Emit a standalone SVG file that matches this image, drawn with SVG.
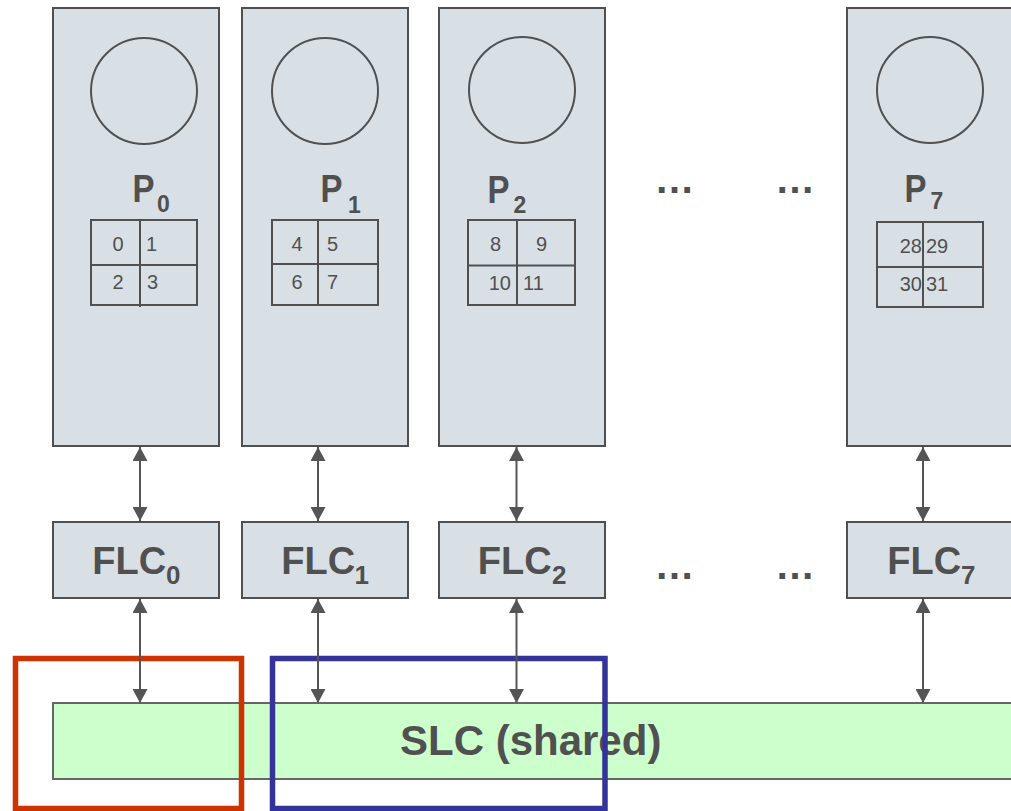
<svg xmlns="http://www.w3.org/2000/svg" width="1011" height="811" viewBox="0 0 1011 811">
<defs>
<marker id="ah" viewBox="0 0 14 15" refX="14" refY="7.5" markerWidth="14" markerHeight="15" markerUnits="userSpaceOnUse" orient="auto-start-reverse">
<path d="M0,0 L14,7.5 L0,15 z" fill="#555555"/>
</marker>
<style>
.box{fill:#d9e0e5;stroke:#505050;stroke-width:2}
.circ{fill:none;stroke:#505050;stroke-width:2}
.grid{fill:none;stroke:#505050;stroke-width:2}
.num{font-family:"Liberation Sans",Arial,sans-serif;font-size:20px;fill:#505050}
.pl{font-family:"Liberation Sans",Arial,sans-serif;font-weight:bold;font-size:33px;fill:#505050}
.ps{font-family:"Liberation Sans",Arial,sans-serif;font-weight:bold;font-size:23px;fill:#505050}
.fl{font-family:"Liberation Sans",Arial,sans-serif;font-weight:bold;font-size:38px;fill:#505050}
.fs{font-family:"Liberation Sans",Arial,sans-serif;font-weight:bold;font-size:26px;fill:#505050}
.dots{font-family:"Liberation Sans",Arial,sans-serif;font-weight:bold;font-size:40px;fill:#505050}
.conn{stroke:#555555;stroke-width:2;fill:none;marker-start:url(#ah);marker-end:url(#ah)}
</style>
</defs>

<g id="P0">
<rect class="box" x="53" y="8" width="166" height="438"/>
<circle class="circ" cx="144" cy="91" r="53"/>
<text class="pl" transform="translate(132.5,202) scale(1,1.15)">P</text><text class="ps" x="157" y="212">0</text>
<rect class="grid" x="91" y="220" width="106" height="85"/>
<line class="grid" x1="91" y1="265" x2="197" y2="265"/>
<line class="grid" x1="140" y1="220" x2="140" y2="307"/>
<text class="num" x="118" y="251" text-anchor="middle">0</text>
<text class="num" x="146" y="251">1</text>
<text class="num" x="118" y="289" text-anchor="middle">2</text>
<text class="num" x="147" y="289">3</text>
</g>

<g id="P1">
<rect class="box" x="242" y="8" width="166" height="438"/>
<circle class="circ" cx="325" cy="91" r="53"/>
<text class="pl" transform="translate(320.5,202) scale(1,1.15)">P</text><text class="ps" x="348" y="213">1</text>
<rect class="grid" x="272" y="220" width="106" height="85"/>
<line class="grid" x1="272" y1="264" x2="378" y2="264"/>
<line class="grid" x1="318" y1="220" x2="318" y2="305"/>
<text class="num" x="297" y="251" text-anchor="middle">4</text>
<text class="num" x="327" y="251">5</text>
<text class="num" x="297" y="289" text-anchor="middle">6</text>
<text class="num" x="327" y="289">7</text>
</g>

<g id="P2">
<rect class="box" x="439" y="8" width="166" height="438"/>
<circle class="circ" cx="522" cy="90" r="53"/>
<text class="pl" transform="translate(487.5,203) scale(1,1.15)">P</text><text class="ps" x="513.5" y="213">2</text>
<rect class="grid" x="468" y="220" width="107" height="85"/>
<line class="grid" x1="468" y1="265.5" x2="575" y2="265.5"/>
<line class="grid" x1="517" y1="220" x2="517" y2="305"/>
<text class="num" x="495.5" y="251" text-anchor="middle">8</text>
<text class="num" x="541.5" y="251" text-anchor="middle">9</text>
<text class="num" x="511" y="290" text-anchor="end">10</text>
<text class="num" x="523" y="290">11</text>
</g>

<g id="P7">
<rect class="box" x="847" y="8" width="166" height="438"/>
<circle class="circ" cx="930" cy="90" r="53"/>
<text class="pl" transform="translate(904.5,202) scale(1,1.15)">P</text><text class="ps" x="930.5" y="208.5">7</text>
<rect class="grid" x="877" y="222" width="106" height="85"/>
<line class="grid" x1="877" y1="267" x2="983" y2="267"/>
<line class="grid" x1="923" y1="222" x2="923" y2="307"/>
<text class="num" x="922" y="253" text-anchor="end">28</text>
<text class="num" x="926" y="253">29</text>
<text class="num" x="922" y="291" text-anchor="end">30</text>
<text class="num" x="926" y="291">31</text>
</g>

<g id="dots-top">
<text class="dots" x="654.5" y="193">…</text>
<text class="dots" x="775" y="193">…</text>
</g>

<g id="FLC0">
<rect class="box" x="53" y="522" width="166" height="76"/>
<text class="fl" x="92.3" y="574">FLC</text><text class="fs" x="166" y="584">0</text>
</g>
<g id="FLC1">
<rect class="box" x="242" y="522" width="166" height="76"/>
<text class="fl" x="281.3" y="574">FLC</text><text class="fs" x="354.5" y="584">1</text>
</g>
<g id="FLC2">
<rect class="box" x="439" y="522" width="166" height="76"/>
<text class="fl" x="477.8" y="574">FLC</text><text class="fs" x="552" y="584">2</text>
</g>
<g id="FLC7">
<rect class="box" x="847" y="522" width="166" height="76"/>
<text class="fl" x="887.3" y="574">FLC</text><text class="fs" x="961" y="584">7</text>
</g>

<g id="dots-mid">
<text class="dots" x="654.5" y="579">…</text>
<text class="dots" x="775" y="579">…</text>
</g>

<g id="SLC">
<rect x="53" y="703" width="970" height="76" fill="#ccffcc" stroke="#666666" stroke-width="2"/>
<text x="400" y="755" font-family="'Liberation Sans',Arial,sans-serif" font-weight="bold" font-size="42" fill="#505050">SLC (shared)</text>
</g>

<g id="highlights">
<rect x="15.5" y="658.5" width="226" height="150" fill="none" stroke="#cc3300" stroke-width="5.5"/>
<rect x="272.5" y="658.5" width="332.5" height="150" fill="none" stroke="#333399" stroke-width="5.5"/>
</g>

<g id="connectors">
<line class="conn" x1="140" y1="447" x2="140" y2="521"/>
<line class="conn" x1="318" y1="447" x2="318" y2="521"/>
<line class="conn" x1="516.5" y1="447" x2="516.5" y2="521"/>
<line class="conn" x1="923" y1="447" x2="923" y2="521"/>
<line class="conn" x1="140" y1="599" x2="140" y2="703"/>
<line class="conn" x1="318" y1="599" x2="318" y2="703"/>
<line class="conn" x1="516.5" y1="599" x2="516.5" y2="703"/>
<line class="conn" x1="923" y1="599" x2="923" y2="703"/>
</g>
</svg>
